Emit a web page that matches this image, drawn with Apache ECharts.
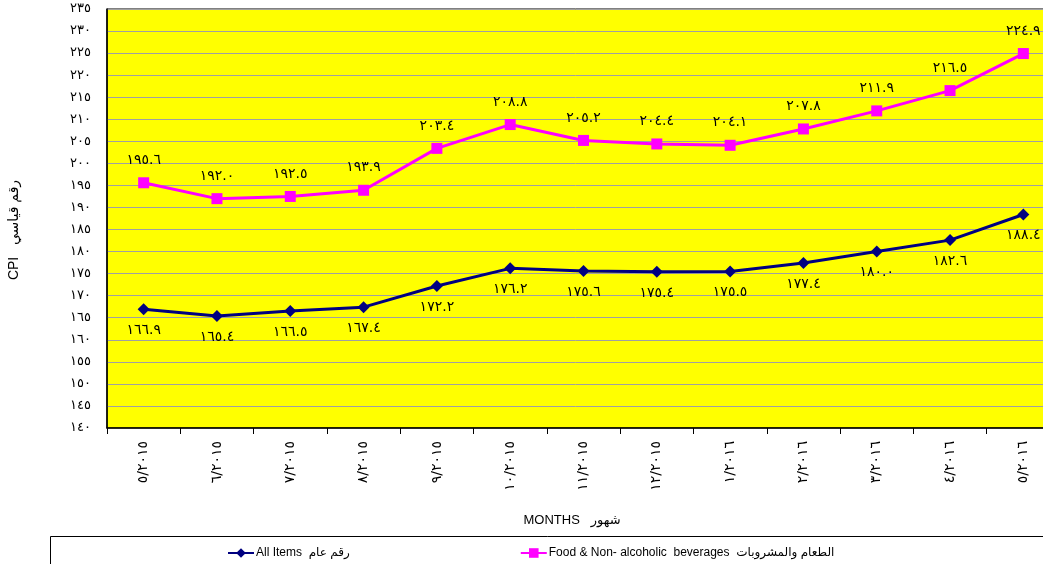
<!DOCTYPE html>
<html>
<head>
<meta charset="utf-8">
<title>CPI</title>
<script src="https://cdn.jsdelivr.net/npm/echarts@6/dist/echarts.min.js"></script>
<style>
	html, body { margin: 0; padding: 0; background: #fff; }
	#main { width: 1043px; height: 564px; }
</style>
</head>
<body>
<div id="main"></div>
<script>
// 月份 (x轴)
var months = ['٥/٢٠١٥', '٦/٢٠١٥', '٧/٢٠١٥', '٨/٢٠١٥', '٩/٢٠١٥', '١٠/٢٠١٥', '١١/٢٠١٥',
	'١٢/٢٠١٥', '١/٢٠١٦', '٢/٢٠١٦', '٣/٢٠١٦', '٤/٢٠١٦', '٥/٢٠١٦'];
// 数据
var allItems = [166.9, 165.4, 166.5, 167.4, 172.2, 176.2, 175.6, 175.4, 175.5, 177.4, 180.0, 182.6, 188.4];
var foodBev = [195.6, 192.0, 192.5, 193.9, 203.4, 208.8, 205.2, 204.4, 204.1, 207.8, 211.9, 216.5, 224.9];
// y轴
var yMin = 140, yMax = 235, yStep = 5;
var nameAll = 'All Items  رقم عام';
var nameFood = 'Food & Non- alcoholic  beverages  الطعام والمشروبات';

var digits = '٠١٢٣٤٥٦٧٨٩';
function toArabic(s) {
	return String(s).replace(/[0-9]/g, function(d) { return digits[+d]; });
}

var myChart = echarts.init(document.getElementById('main'));
var option = {
	backgroundColor: '#fff',
	animation: false,
	textStyle: { fontFamily: 'Arial, "DejaVu Sans", sans-serif' },
	grid: {
		left: 107,
		top: 9,
		width: 953,
		height: 419,
		outerBoundsMode: 'none',
		show: true,
		backgroundColor: '#ffff00',
		borderColor: '#000',
		borderWidth: 1
	},
	legend: {
		left: 222,
		top: 542,
		itemGap: 170,
		itemWidth: 26,
		itemHeight: 12,
		textStyle: { fontSize: 12, color: '#000', padding: [0, 0, 0, -3] },
		data: [nameAll, nameFood]
	},
	xAxis: {
		type: 'category',
		data: months,
		boundaryGap: true,
		axisLine: { lineStyle: { color: '#000', width: 1.5 } },
		axisTick: { show: true, length: 6, lineStyle: { color: '#000' } },
		axisLabel: { rotate: 90, margin: 13, fontSize: 14, color: '#000', fontFamily: '"DejaVu Sans", sans-serif' },
		splitLine: { show: false }
	},
	yAxis: {
		type: 'value',
		min: yMin,
		max: yMax,
		interval: yStep,
		axisLine: { show: true, lineStyle: { color: '#000', width: 1.5 } },
		axisTick: { show: false },
		axisLabel: {
			margin: 16,
			fontSize: 13,
			color: '#000',
			fontFamily: '"DejaVu Sans", sans-serif',
			padding: [0, 0, 6, 0],
			formatter: function(v) { return toArabic(v); }
		},
		splitLine: { lineStyle: { color: '#a0a0a0', width: 1 } }
	},
	graphic: [
		{
			type: 'text',
			x: 14,
			y: 230,
			rotation: Math.PI / 2,
			style: {
				text: 'CPI   رقم قياسي',
				fontSize: 14,
				fill: '#000',
				align: 'center',
				verticalAlign: 'middle',
				fontFamily: 'Arial, "DejaVu Sans", sans-serif'
			}
		},
		{
			type: 'text',
			x: 572,
			y: 520,
			style: {
				text: 'MONTHS   شهور',
				fontSize: 13,
				fill: '#000',
				align: 'center',
				verticalAlign: 'middle',
				fontFamily: 'Arial, "DejaVu Sans", sans-serif'
			}
		},
		{
			type: 'rect',
			shape: { x: 50.5, y: 536.5, width: 1010, height: 60 },
			style: { fill: 'none', stroke: '#000', lineWidth: 1 },
			silent: true
		}
	],
	series: [
		{
			name: nameAll,
			type: 'line',
			data: allItems,
			symbol: 'diamond',
			symbolSize: 12,
			lineStyle: { color: '#000080', width: 3 },
			itemStyle: { color: '#000080' },
			label: {
				show: true,
				position: 'bottom',
				distance: 8,
				fontSize: 14,
				color: '#000',
				fontFamily: '"DejaVu Sans", sans-serif',
				formatter: function(p) { return toArabic(p.value.toFixed(1)); }
			}
		},
		{
			name: nameFood,
			type: 'line',
			data: foodBev,
			symbol: 'rect',
			symbolSize: 11,
			lineStyle: { color: '#ff00ff', width: 3 },
			itemStyle: { color: '#ff00ff' },
			label: {
				show: true,
				position: 'top',
				distance: 10,
				fontSize: 14,
				color: '#000',
				fontFamily: '"DejaVu Sans", sans-serif',
				formatter: function(p) { return toArabic(p.value.toFixed(1)); }
			}
		}
	]
};
myChart.setOption(option);
</script>
</body>
</html>
